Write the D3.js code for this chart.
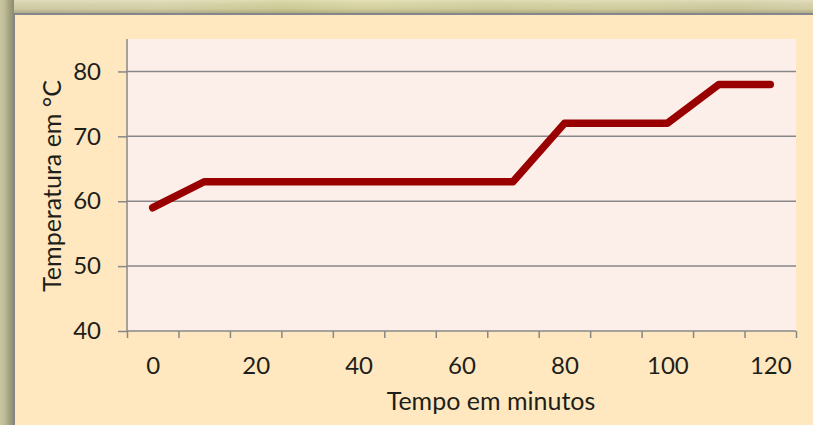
<!DOCTYPE html>
<html>
<head>
<meta charset="utf-8">
<script src="https://cdn.jsdelivr.net/npm/d3@7"></script>
<style>
  html, body { margin: 0; padding: 0; background: #ffe8c0; }
  svg { display: block; }
  text { font-family: Lato, "Open Sans", sans-serif; fill: #1e1e1a; }
</style>
</head>
<body>
<svg id="chart" width="813" height="425"></svg>
<script>
// Temperature readings over time
const minutes = [0, 10, 20, 30, 40, 50, 60, 70, 80, 90, 100, 110, 120];
const temps   = [59, 63, 63, 63, 63, 63, 63, 63, 72, 72, 72, 78, 78];
const xTickLabels = [0, 20, 40, 60, 80, 100, 120];
const yTicks = [40, 50, 60, 70, 80];
const xTitle = "Tempo em minutos";
const yTitle = "Temperatura em °C";

const W = 813, H = 425;
const svg = d3.select("#chart");
const defs = svg.append("defs");

// frame shading
const gTop = defs.append("linearGradient").attr("id", "frameTop")
  .attr("x1", 0).attr("y1", 0).attr("x2", 1).attr("y2", 0);
[["0%", "#d9d4ac"], ["20%", "#dedab0"], ["35%", "#d6d49c"], ["45%", "#e0dca8"],
 ["60%", "#d8d6a2"], ["75%", "#dcd8a8"], ["90%", "#d6d2a4"], ["100%", "#ddd8b0"]]
  .forEach(([o, c]) => gTop.append("stop").attr("offset", o).attr("stop-color", c));
const gShade = defs.append("linearGradient").attr("id", "frameShade")
  .attr("x1", 0).attr("y1", 0).attr("x2", 0).attr("y2", 1);
gShade.append("stop").attr("offset", "0%").attr("stop-color", "#ffffff").attr("stop-opacity", 0.2);
gShade.append("stop").attr("offset", "60%").attr("stop-color", "#6e6c50").attr("stop-opacity", 0.1);
gShade.append("stop").attr("offset", "100%").attr("stop-color", "#5a5840").attr("stop-opacity", 0.4);
const gLeft = defs.append("linearGradient").attr("id", "frameLeft")
  .attr("x1", 0).attr("y1", 0).attr("x2", 1).attr("y2", 0);
gLeft.append("stop").attr("offset", "0%").attr("stop-color", "#cac6a2");
gLeft.append("stop").attr("offset", "35%").attr("stop-color", "#bdba96");
gLeft.append("stop").attr("offset", "70%").attr("stop-color", "#a09e7e");
gLeft.append("stop").attr("offset", "100%").attr("stop-color", "#8e8c70");

svg.append("rect").attr("width", W).attr("height", 14).attr("fill", "url(#frameTop)");
svg.append("rect").attr("width", W).attr("height", 14).attr("fill", "url(#frameShade)");
svg.append("rect").attr("width", 14).attr("height", H).attr("fill", "url(#frameLeft)");

// chart area
svg.append("rect").attr("x", 15).attr("y", 15).attr("width", W - 15).attr("height", H - 15)
  .attr("fill", "#ffe8c0");
svg.append("path").attr("d", `M14,${H}V14H${W}`)
  .attr("fill", "none").attr("stroke", "#85858c").attr("stroke-width", 2);

// plot area
const plot = { left: 127, right: 796, top: 39, bottom: 331 };
svg.append("rect").attr("x", plot.left).attr("y", plot.top)
  .attr("width", plot.right - plot.left).attr("height", plot.bottom - plot.top)
  .attr("fill", "#fcefea");

const step = minutes[1] - minutes[0];
const x = d3.scaleLinear()
  .domain([minutes[0] - step / 2, minutes[minutes.length - 1] + step / 2])
  .range([plot.left, plot.right]);
const y = d3.scaleLinear().domain([40, 85]).range([plot.bottom, plot.top]);

const axisColor = "#878787";
const tickFont = 24;

// gridlines
svg.append("g").selectAll("line").data(yTicks.slice(1)).join("line")
  .attr("x1", plot.left).attr("x2", plot.right)
  .attr("y1", d => y(d)).attr("y2", d => y(d))
  .attr("stroke", axisColor).attr("stroke-width", 1.5);

// y axis
const yAxis = svg.append("g").attr("transform", `translate(${plot.left},0)`)
  .call(d3.axisLeft(y).tickValues(yTicks).tickSize(9).tickPadding(17));
yAxis.select(".domain").remove();
yAxis.append("line").attr("x1", 0).attr("x2", 0).attr("y1", plot.top).attr("y2", plot.bottom)
  .attr("stroke", axisColor).attr("stroke-width", 1.5);
yAxis.selectAll(".tick line").attr("stroke", axisColor).attr("stroke-width", 1.5);
yAxis.selectAll(".tick text").attr("font-size", tickFont).attr("font-family", "Lato").attr("fill", "#1e1e1a");

// x axis: tick marks between categories, labels on every other category
const boundaries = d3.range(minutes.length + 1).map(i => minutes[0] - step / 2 + i * step);
const xAxis = svg.append("g").attr("transform", `translate(0,${plot.bottom})`)
  .call(d3.axisBottom(x).tickValues(boundaries).tickSize(7).tickFormat(""));
xAxis.select(".domain").remove();
xAxis.append("line").attr("x1", plot.left).attr("x2", plot.right)
  .attr("stroke", axisColor).attr("stroke-width", 1.5);
xAxis.selectAll(".tick line").attr("stroke", axisColor).attr("stroke-width", 1.5);

const xLabels = svg.append("g").attr("transform", `translate(0,${plot.bottom})`)
  .call(d3.axisBottom(x).tickValues(xTickLabels).tickSize(0).tickPadding(26));
xLabels.select(".domain").remove();
xLabels.selectAll(".tick text").attr("font-size", tickFont).attr("font-family", "Lato").attr("fill", "#1e1e1a");

// series line
const line = d3.line().x((d, i) => x(minutes[i])).y(d => y(d));
svg.append("path").datum(temps).attr("d", line)
  .attr("fill", "none").attr("stroke", "#990000").attr("stroke-width", 7.5)
  .attr("stroke-linejoin", "round").attr("stroke-linecap", "round");

// axis titles
svg.append("text").attr("x", 491).attr("y", 410).attr("text-anchor", "middle")
  .attr("font-size", 25).text(xTitle);
svg.append("text").attr("transform", "translate(61,186) rotate(-90)")
  .attr("text-anchor", "middle").attr("font-size", 25).text(yTitle);
</script>
</body>
</html>
